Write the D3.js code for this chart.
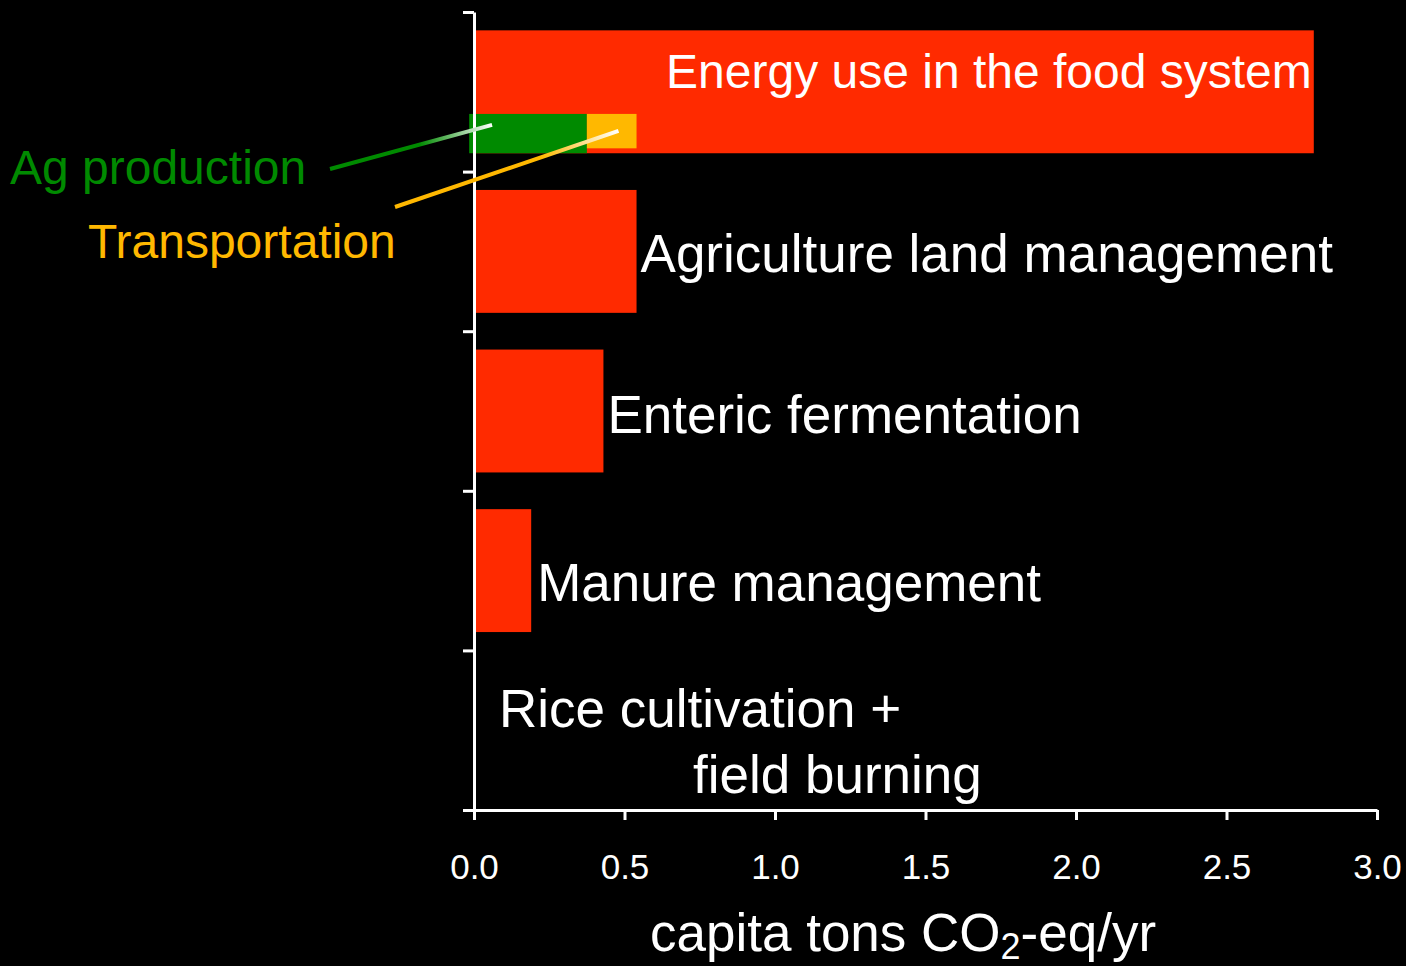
<!DOCTYPE html>
<html lang="en">
  <head>
    <meta charset='UTF-8'>
    <title>Food system emissions per capita</title>
    <script src="https://d3js.org/d3.v7.min.js"></script>
    <style>
      html, body { margin: 0; padding: 0; background: #000; }
      svg { display: block; }
      text { font-family: "Liberation Sans", Arial, Helvetica, sans-serif; fill: #fff; }
    </style>
  </head>

  <body>
    <svg class="main-svg" width="1406" height="966"></svg>
    <script>
    // data
    var categories = ["Energy use in the food system", "Agriculture land management",
                      "Enteric fermentation", "Manure management", "Rice cultivation + field burning"];
    var values = [2.79, 0.54, 0.43, 0.19, 0.0];
    // split of the energy bar
    var subNames = ["Ag production", "Transportation"];
    var subStart = [-0.016, 0.375];
    var subEnd = [0.375, 0.54];
    var xTicks = [0, 0.5, 1.0, 1.5, 2.0, 2.5, 3.0];

    var svg = d3.select("svg");
    var red = "#ff2a00", green = "#008a00", orange = "#ffb800";

    var x = d3.scaleLinear().domain([0, 3]).range([474, 1377]);
    var y = d3.scaleBand().domain(categories).range([12, 810])
              .paddingInner(0.23).paddingOuter(0.115);
    var yEdge = d3.scaleLinear().domain([0, categories.length]).range([12, 810]);

    // bars
    svg.append("g").selectAll("rect")
      .data(categories)
      .enter()
      .append("rect")
        .attr("x", x(0))
        .attr("y", function(d) { return y(d); })
        .attr("width", function(d, i) { return x(values[i]) - x(0); })
        .attr("height", y.bandwidth())
        .style("fill", red);

    // ag production / transportation segments inside the energy bar
    var bw = y.bandwidth(), top0 = y(categories[0]);
    var segTop = top0 + bw * 0.68;
    svg.append("g").selectAll("rect")
      .data(subNames)
      .enter()
      .append("rect")
        .attr("x", function(d, i) { return x(subStart[i]); })
        .attr("y", segTop)
        .attr("width", function(d, i) { return x(subEnd[i]) - x(subStart[i]); })
        .attr("height", function(d, i) { return i == 0 ? bw * 0.32 : bw * 0.28; })
        .style("fill", function(d, i) { return i == 0 ? green : orange; });

    // axes
    var gx = svg.append("g")
      .attr("transform", "translate(0,810)")
      .call(d3.axisBottom(x).tickValues(xTicks).tickFormat(d3.format(".1f"))
              .tickSize(10).tickSizeOuter(0).tickPadding(34));
    gx.select(".domain").attr("stroke", "#fff").attr("stroke-width", 3);
    gx.selectAll(".tick line").attr("stroke", "#fff").attr("stroke-width", 3);
    gx.selectAll(".tick text")
      .style("font-size", "35px").style("fill", "#fff")
      .style("font-family", "'Liberation Sans', Arial, sans-serif");

    var gy = svg.append("g")
      .attr("transform", "translate(474,0)")
      .call(d3.axisLeft(yEdge).tickValues(d3.range(categories.length + 1))
              .tickFormat("").tickSize(11).tickSizeOuter(0));
    gy.select(".domain").attr("stroke", "#fff").attr("stroke-width", 3);
    gy.selectAll(".tick line").attr("stroke", "#fff").attr("stroke-width", 3);

    // category labels
    function cy(i) { return y(categories[i]) + bw / 2; }
    svg.append("text")
      .attr("x", x(values[0]) - 2).attr("y", cy(0) - 4)
      .attr("text-anchor", "end")
      .style("font-size", "48px")
      .text(categories[0]);
    [1, 2, 3].forEach(function(i) {
      var dy = [0, 20.5, 22, 30][i];
      var gap = [0, 4, 4, 6][i];
      svg.append("text")
        .attr("x", x(values[i]) + gap).attr("y", cy(i) + dy)
        .style("font-size", "53px")
        .text(categories[i]);
    });
    svg.append("text")
      .attr("x", x(values[4]) + 25).attr("y", cy(4) - 3)
      .style("font-size", "53px")
      .text("Rice cultivation +");
    svg.append("text")
      .attr("x", x(values[4]) + 219).attr("y", cy(4) + 63)
      .style("font-size", "53px")
      .text("field burning");

    // axis title
    var title = svg.append("text")
      .attr("x", 650).attr("y", 951)
      .style("font-size", "53px");
    title.append("tspan").text("capita tons CO");
    title.append("tspan").attr("dy", 8).style("font-size", "36px").text("2");
    title.append("tspan").attr("dy", -8).text("-eq/yr");

    // callout labels and leader lines
    var defs = svg.append("defs");
    var leaders = [
      { name: subNames[0], color: green, x1: 330, y1: 169, x2: x(0.06), y2: segTop + 11, lx: 10, ly: 184 },
      { name: subNames[1], color: orange, x1: 395, y1: 207, x2: x(0.48), y2: segTop + 17, lx: 88, ly: 258 }
    ];
    leaders.forEach(function(d, i) {
      var grad = defs.append("linearGradient")
        .attr("id", "lg" + i)
        .attr("gradientUnits", "userSpaceOnUse")
        .attr("x1", d.x1).attr("y1", d.y1).attr("x2", d.x2).attr("y2", d.y2);
      grad.append("stop").attr("offset", "0%").attr("stop-color", d.color);
      grad.append("stop").attr("offset", i == 0 ? "55%" : "65%").attr("stop-color", d.color);
      grad.append("stop").attr("offset", "100%").attr("stop-color", "#ffffff");
      svg.append("line")
        .attr("x1", d.x1).attr("y1", d.y1).attr("x2", d.x2).attr("y2", d.y2)
        .style("stroke", "url(#lg" + i + ")")
        .style("stroke-width", 4);
      svg.append("text")
        .attr("x", d.lx).attr("y", d.ly)
        .style("font-size", "48px")
        .style("fill", d.color)
        .text(d.name);
    });
    </script>
  </body>
</html>
